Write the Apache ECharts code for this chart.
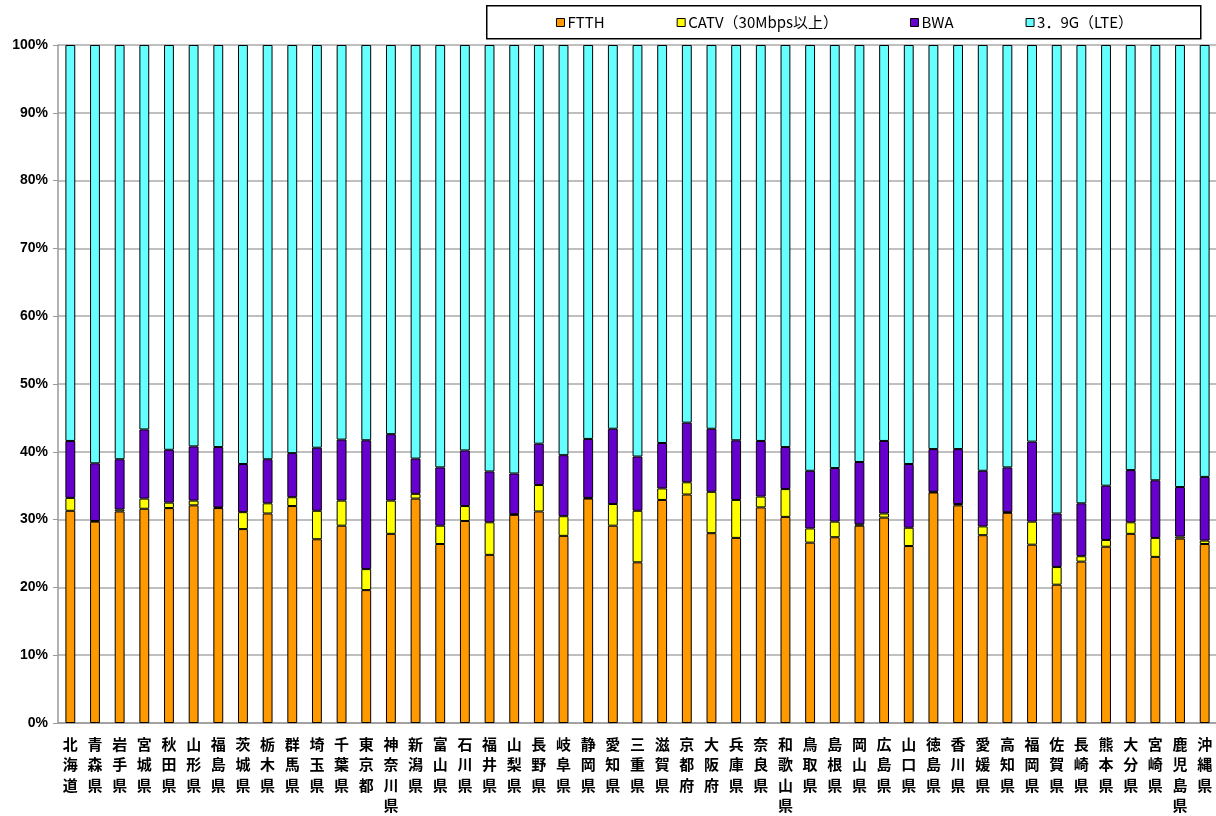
<!DOCTYPE html>
<html>
<head>
<meta charset="utf-8">
<script src="https://cdn.jsdelivr.net/npm/echarts@6/dist/echarts.min.js"></script>
<style>
  html, body { margin: 0; padding: 0; background: #fff; }
  #chart { width: 1216px; height: 816px; }
</style>
</head>
<body>
<div id="chart"></div>
<script>
// 都道府県
const prefectures = ['北海道', '青森県', '岩手県', '宮城県', '秋田県', '山形県', '福島県', '茨城県', '栃木県', '群馬県',
  '埼玉県', '千葉県', '東京都', '神奈川県', '新潟県', '富山県', '石川県', '福井県', '山梨県', '長野県',
  '岐阜県', '静岡県', '愛知県', '三重県', '滋賀県', '京都府', '大阪府', '兵庫県', '奈良県', '和歌山県',
  '鳥取県', '島根県', '岡山県', '広島県', '山口県', '徳島県', '香川県', '愛媛県', '高知県', '福岡県',
  '佐賀県', '長崎県', '熊本県', '大分県', '宮崎県', '鹿児島県', '沖縄県'];

// 構成比 (%)
const ftth = [31.3, 29.7, 31.2, 31.6, 31.7, 32.1, 31.7, 28.6, 30.9, 32.0,
  27.1, 29.1, 19.6, 27.9, 33.1, 26.4, 29.8, 24.8, 30.7, 31.2,
  27.6, 33.1, 29.1, 23.7, 32.9, 33.7, 28.0, 27.3, 31.8, 30.4,
  26.6, 27.4, 29.1, 30.3, 26.1, 34.0, 32.1, 27.7, 31.0, 26.3,
  20.4, 23.8, 26.0, 27.9, 24.5, 27.2, 26.4];
const catv = [1.9, 0.1, 0.3, 1.5, 0.8, 0.7, 0.1, 2.5, 1.5, 1.3,
  4.2, 3.7, 3.1, 4.9, 0.7, 2.7, 2.2, 4.8, 0.1, 3.9,
  2.9, 0.1, 3.2, 7.6, 1.7, 1.8, 6.1, 5.6, 1.6, 4.1,
  2.1, 2.3, 0.2, 0.6, 2.7, 0.1, 0.2, 1.3, 0.1, 3.4,
  2.6, 0.8, 1.0, 1.7, 2.8, 0.3, 0.5];
const bwa = [8.4, 8.5, 7.4, 10.2, 7.8, 8.0, 8.9, 7.1, 6.5, 6.5,
  9.3, 9.0, 19.0, 9.8, 5.2, 8.6, 8.2, 7.5, 6.0, 6.1,
  9.0, 8.7, 11.1, 8.0, 6.7, 8.8, 9.3, 8.8, 8.2, 6.2,
  8.5, 7.9, 9.2, 10.7, 9.4, 6.3, 8.1, 8.2, 6.6, 11.8,
  7.9, 7.8, 8.0, 7.7, 8.5, 7.3, 9.4];
const lte = [58.4, 61.7, 61.1, 56.7, 59.7, 59.2, 59.3, 61.8, 61.1, 60.2,
  59.4, 58.2, 58.3, 57.4, 61.0, 62.3, 59.8, 62.9, 63.2, 58.8,
  60.5, 58.1, 56.6, 60.7, 58.7, 55.7, 56.6, 58.3, 58.4, 59.3,
  62.8, 62.4, 61.5, 58.4, 61.8, 59.6, 59.6, 62.8, 62.3, 58.5,
  69.1, 67.6, 65.0, 62.7, 64.2, 65.2, 63.7];

const seriesNames = ['FTTH', 'CATV（30Mbps以上）', 'BWA', '3．9G（LTE）'];
const seriesColors = ['#FF9900', '#FFFF00', '#6600CC', '#66FFFF'];
const seriesData = [ftth, catv, bwa, lte];

const chart = echarts.init(document.getElementById('chart'));

chart.setOption({
  animation: false,
  textStyle: { fontFamily: '"Noto Sans CJK JP", "Liberation Sans", sans-serif' },
  graphic: [{
    type: 'rect',
    left: 486, top: 5,
    shape: { width: 714, height: 33 },
    style: { fill: '#fff', stroke: '#000', lineWidth: 1.5 },
    z: -1
  }],
  legend: {
    left: 551, top: 10,
    itemWidth: 8, itemHeight: 8, itemGap: 72,
    icon: 'rect',
    itemStyle: { borderColor: '#000', borderWidth: 1 },
    textStyle: { fontSize: 15, color: '#000', padding: [0, 0, 0, -2] },
    data: seriesNames
  },
  grid: { left: 58, right: -1, top: 45, bottom: 93, containLabel: false, outerBoundsMode: 'none' },
  xAxis: {
    type: 'category',
    data: prefectures,
    axisLine: { lineStyle: { color: '#999', width: 1.5 } },
    axisTick: { length: 5, lineStyle: { color: '#999' } },
    axisLabel: {
      interval: 0,
      margin: 11,
      fontSize: 15,
      fontWeight: 'bold',
      lineHeight: 20.5,
      color: '#000',
      verticalAlign: 'top',
      formatter: v => v.split('').join('\n')
    }
  },
  yAxis: {
    type: 'value',
    min: 0, max: 100, interval: 10,
    axisLine: { show: true, lineStyle: { color: '#999', width: 1.5 } },
    axisTick: { show: true, length: 5, lineStyle: { color: '#999' } },
    splitLine: { lineStyle: { color: '#aaa', width: 1.5 } },
    axisLabel: {
      formatter: '{value}%',
      fontSize: 14,
      fontWeight: 'bold',
      color: '#000',
      margin: 10,
      fontFamily: '"Liberation Sans", sans-serif'
    }
  },
  series: seriesNames.map((name, i) => ({
    name: name,
    type: 'bar',
    stack: 'total',
    barWidth: '40%',
    data: seriesData[i],
    itemStyle: { color: seriesColors[i], borderColor: '#000', borderWidth: 1 }
  }))
});
</script>
</body>
</html>
